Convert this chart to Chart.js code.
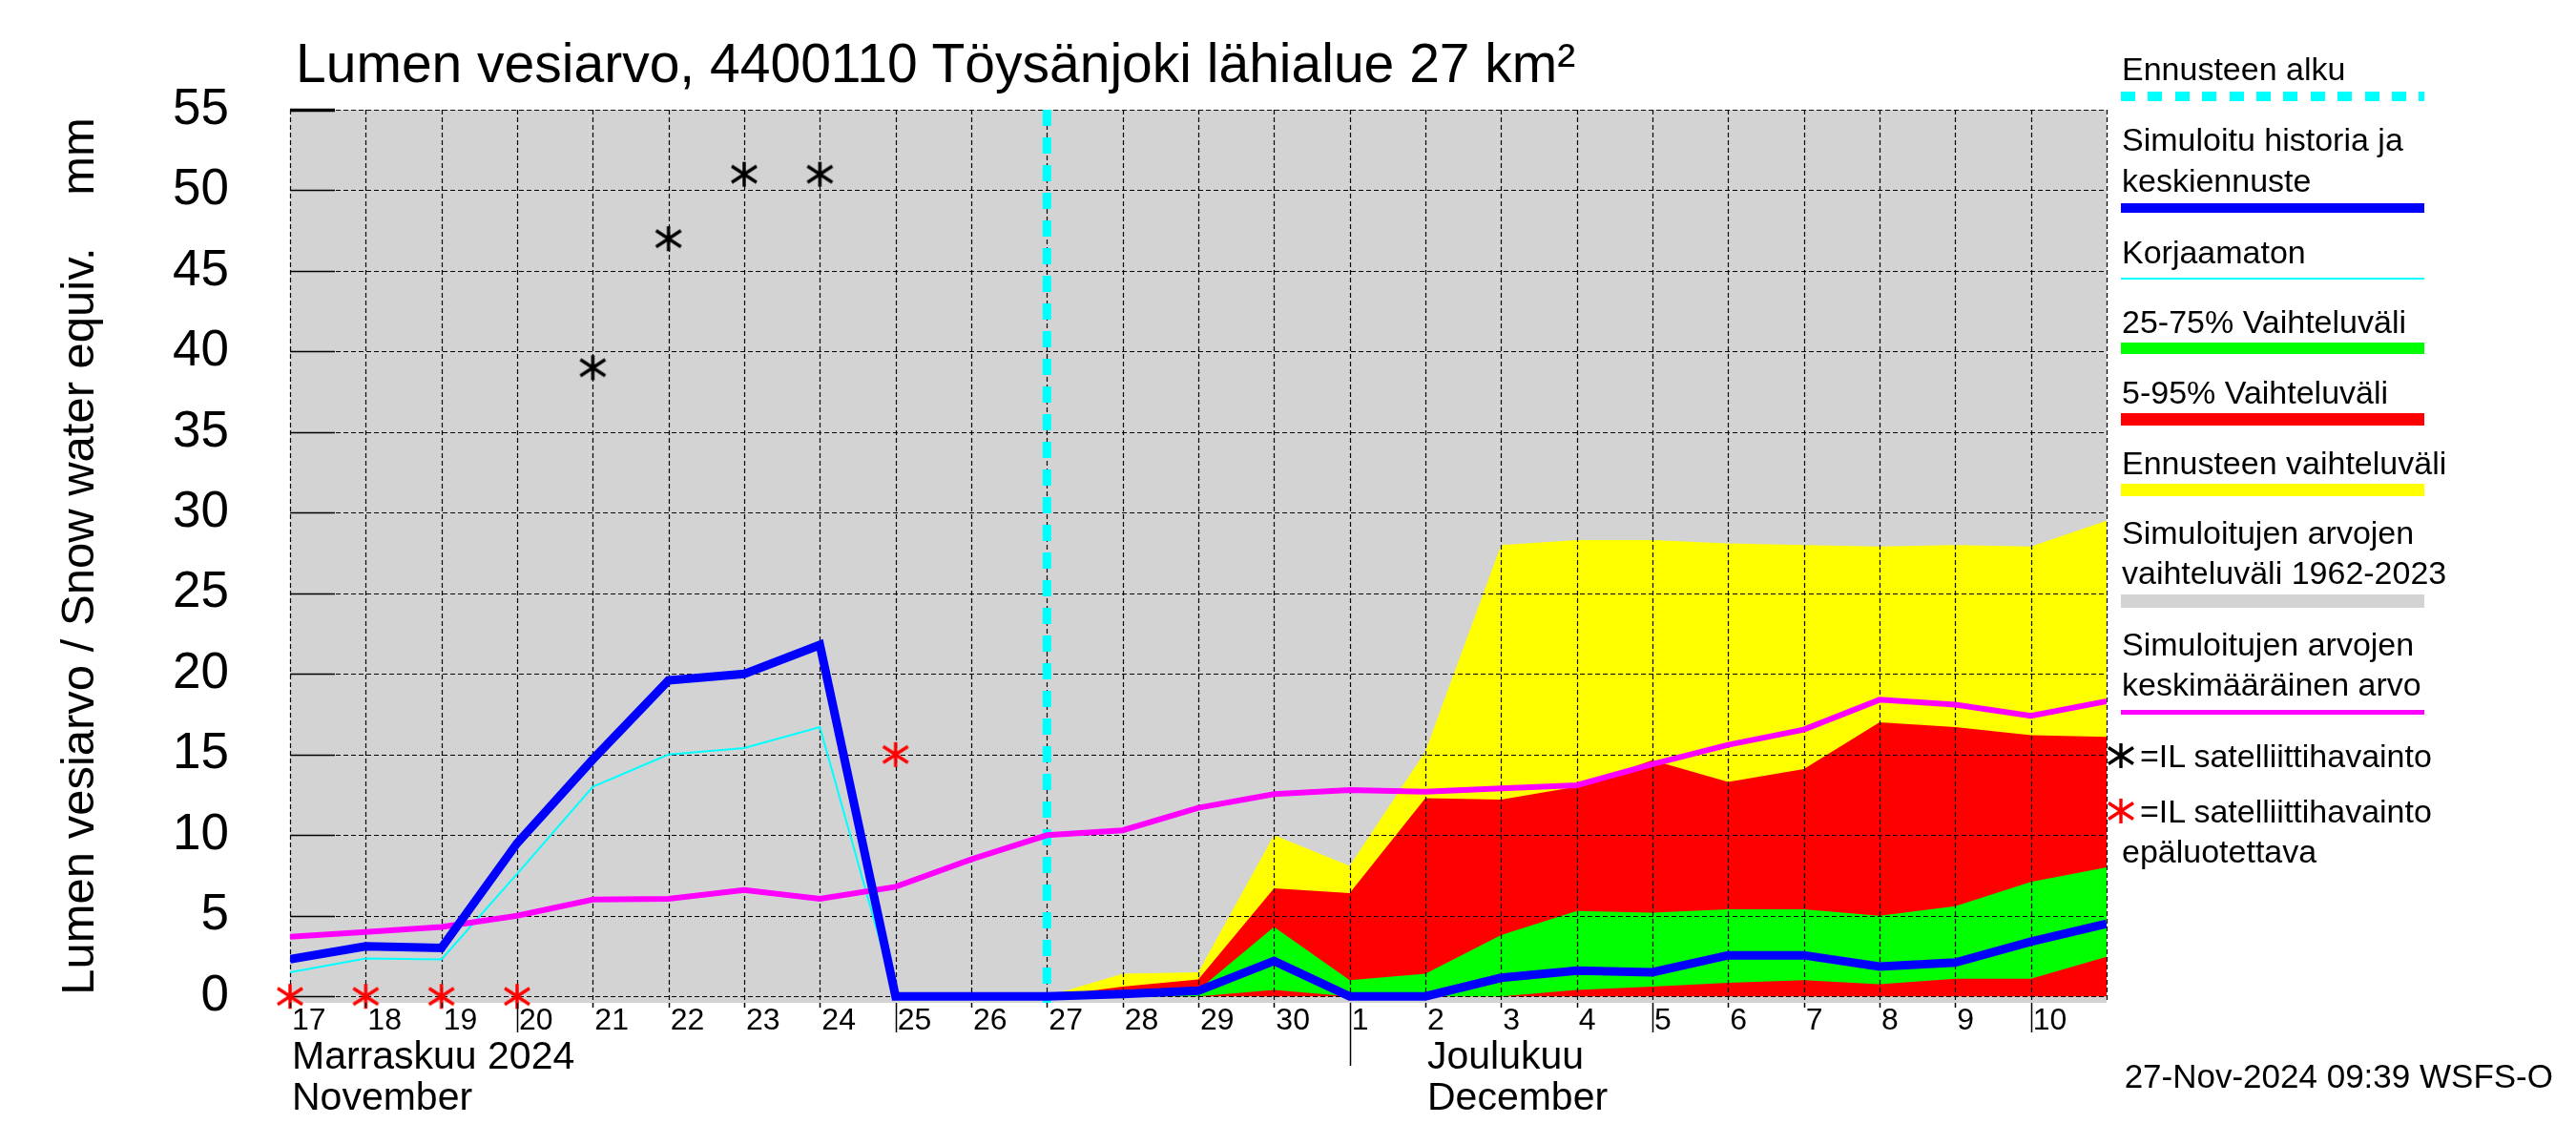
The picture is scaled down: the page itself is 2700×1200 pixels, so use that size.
<!DOCTYPE html>
<html><head><meta charset="utf-8">
<script src="https://cdn.jsdelivr.net/npm/chart.js@4.4.1/dist/chart.umd.min.js"></script>
<style>
html,body{margin:0;padding:0;background:#fff;}
#wrap{position:relative;width:2700px;height:1200px;overflow:hidden;font-family:'Liberation Sans',Arial,Helvetica,sans-serif;color:#000;}
#c{position:absolute;left:0;top:0;}
.t{position:absolute;white-space:pre;line-height:1;}
.ln{position:absolute;}
svg{position:absolute;}
</style></head><body>
<div id="wrap"><canvas id="c" width="2700" height="1200"></canvas></div>
<script>
// ---------------- data ----------------
const startDate = '2024-11-17';
const dayLabels = ['17','18','19','20','21','22','23','24','25','26','27','28','29','30',
                   '1','2','3','4','5','6','7','8','9','10','11'];
const yTicks = [0,5,10,15,20,25,30,35,40,45,50,55];
const longTickDays = ['20','25','5','10'];
const monthStartDay = '1';
const forecastStart = '2024-11-27';

// simulated history + median forecast, Nov 17 .. Dec 11
const simMedian = [2.3,3.1,3.0,9.5,14.7,19.6,20.0,21.8,0,0,0,0.15,0.35,2.2,0,0,1.15,1.6,1.5,2.55,2.55,1.85,2.1,3.4,4.5];
// uncorrected simulation, Nov 17 .. Nov 27
const uncorrected = [1.5,2.35,2.3,7.6,13.0,15.0,15.4,16.7,0,0,0];
// mean of simulated values 1962-2023, Nov 17 .. Dec 11
const simMean = [3.7,4.0,4.3,5.0,6.0,6.05,6.6,6.05,6.8,8.5,10.0,10.3,11.7,12.55,12.8,12.7,12.9,13.1,14.4,15.6,16.55,18.4,18.1,17.4,18.3];
// forecast ranges, Nov 27 .. Dec 11
const ensMin = [0,0,0,0,0,0,0,0,0,0,0,0,0,0,0];
const ensMax = [0,1.4,1.5,10.0,8.1,15.2,28.0,28.3,28.3,28.1,28.0,27.9,28.0,27.9,29.5];
const p05 = [0,0,0,0,0,0,0,0,0,0,0,0,0,0,0];
const p95 = [0,0.6,1.05,6.7,6.4,12.3,12.2,13.0,14.65,13.3,14.1,17.0,16.7,16.2,16.1];
const p25 = [0,0,0,0.4,0,0,0,0.4,0.6,0.85,1.0,0.75,1.1,1.1,2.45];
const p75 = [0,0.2,0.4,4.3,1.0,1.4,3.8,5.3,5.2,5.4,5.4,5.0,5.6,7.1,8.0];
// satellite observations
const satDates = ['2024-11-21','2024-11-22','2024-11-23','2024-11-24'];
const satValues = [39,47,51,51];
const satBadDates = ['2024-11-17','2024-11-18','2024-11-19','2024-11-20','2024-11-25'];
const satBadValues = [0,0,0,0,15];

const titleText = 'Lumen vesiarvo, 4400110 Töysänjoki lähialue 27 km²';
const yTitle = 'Lumen vesiarvo / Snow water equiv.    mm';
const monthLabels = [
  {at:'2024-11-17', lines:['Marraskuu 2024','November']},
  {at:'2024-12-02', lines:['Joulukuu','December']}
];
const stamp = '27-Nov-2024 09:39 WSFS-O';

// ---------------- helpers ----------------
const FONT = "'Liberation Sans', Arial, Helvetica, sans-serif";
function dayIndex(d){ return Math.round((Date.parse(d) - Date.parse(startDate)) / 86400000); }
function pts(arr, start){ return arr.map((v,i)=>({x:start+i, y:v})); }
const fcStart = dayIndex(forecastStart);

function starCanvas(color){
  const c = document.createElement('canvas'); c.width = 30; c.height = 28;
  const g = c.getContext('2d'); g.strokeStyle = color; g.lineWidth = 3.4;
  g.beginPath();
  g.moveTo(15,1); g.lineTo(15,27);
  g.moveTo(2,5.5); g.lineTo(28,22.5);
  g.moveTo(2,22.5); g.lineTo(28,5.5);
  g.stroke();
  return c;
}
const blackStar = starCanvas('#000000');
const redStar = starCanvas('#ff0000');

const IDX_CYAN = 6;

function drawGrid(chart){
  const {ctx, chartArea:a, scales:{x, y}} = chart;
  ctx.save();
  ctx.strokeStyle = '#000'; ctx.lineWidth = 1.2; ctx.setLineDash([5,3]);
  for (let i = 0; i < dayLabels.length; i++){
    const px = Math.round(x.getPixelForValue(i)) + 0.5;
    ctx.beginPath(); ctx.moveTo(px, a.top); ctx.lineTo(px, a.bottom); ctx.stroke();
  }
  yTicks.forEach(v=>{
    const py = Math.round(y.getPixelForValue(v)) + 0.5;
    ctx.beginPath(); ctx.moveTo(a.left, py); ctx.lineTo(a.right, py); ctx.stroke();
  });
  ctx.setLineDash([]);
  yTicks.forEach(v=>{
    const py = Math.round(y.getPixelForValue(v)) + 0.5;
    ctx.lineWidth = (v === yTicks[yTicks.length-1]) ? 3.5 : 1.6;
    ctx.beginPath(); ctx.moveTo(a.left, py); ctx.lineTo(a.left + 47, py); ctx.stroke();
  });
  const fx = x.getPixelForValue(fcStart);
  ctx.strokeStyle = '#00ffff'; ctx.lineWidth = 9; ctx.setLineDash([17,12]);
  ctx.beginPath(); ctx.moveTo(fx, a.top); ctx.lineTo(fx, a.bottom); ctx.stroke();
  ctx.restore();
}

const decor = {
  id: 'decor',
  beforeDatasetsDraw(chart){
    const {ctx, chartArea:a} = chart;
    ctx.save(); ctx.fillStyle = '#d3d3d3';
    ctx.fillRect(a.left, a.top, a.right - a.left, a.bottom - a.top);
    ctx.restore();
  },
  beforeDatasetDraw(chart, args){ if (args.index === IDX_CYAN) drawGrid(chart); },
  afterDraw(chart){
    const {ctx, chartArea:a, scales:{x}} = chart;
    ctx.save(); ctx.strokeStyle = '#000'; ctx.lineWidth = 1.5;
    for (let i = 0; i < dayLabels.length - 1; i++){
      const d = dayLabels[i];
      const len = d === monthStartDay ? 66 : (longTickDays.includes(d) ? 31 : 5);
      const px = Math.round(x.getPixelForValue(i)) + 0.5;
      ctx.beginPath(); ctx.moveTo(px, a.bottom); ctx.lineTo(px, a.bottom + len); ctx.stroke();
    }
    ctx.restore();
  }
};

const noPt = {pointRadius:0, pointHoverRadius:0, tension:0};
const band = (data, color, target, order) => Object.assign({
  data: pts(data, fcStart), borderWidth: 0, borderColor: 'rgba(0,0,0,0)',
  backgroundColor: color, fill: target === null ? false : {target: target}, order: order
}, noPt);

Chart.defaults.font.family = FONT;
const chart = new Chart(document.getElementById('c'), {
  type: 'line',
  data: { datasets: [
    band(ensMin, 'rgba(0,0,0,0)', null, 10),
    band(ensMax, '#ffff00', 0, 10),
    band(p05, 'rgba(0,0,0,0)', null, 9),
    band(p95, '#ff0000', 2, 9),
    band(p25, 'rgba(0,0,0,0)', null, 8),
    band(p75, '#00ff00', 4, 8),
    Object.assign({data: pts(uncorrected, 0), borderColor:'#00ffff', borderWidth:2, fill:false, order:5}, noPt),
    Object.assign({data: pts(simMean, 0), borderColor:'#ff00ff', borderWidth:6, fill:false, order:4}, noPt),
    Object.assign({data: pts(simMedian, 0), borderColor:'#0000ff', borderWidth:9, fill:false, order:3}, noPt),
    {data: satDates.map((d,i)=>({x:dayIndex(d), y:satValues[i]})), showLine:false, pointStyle:blackStar,
     pointRadius:14, pointHoverRadius:14, clip:false, order:1},
    {data: satBadDates.map((d,i)=>({x:dayIndex(d), y:satBadValues[i]})), showLine:false, pointStyle:redStar,
     pointRadius:14, pointHoverRadius:14, clip:false, order:1}
  ]},
  options: {
    responsive:false, devicePixelRatio:1, animation:false,
    events: [],
    layout: {padding:{left:0, top:115, right:492, bottom:0}},
    plugins: {legend:{display:false}, tooltip:{enabled:false}, title:{display:false}},
    scales: {
      x: {
        type:'linear', min:0, max:dayLabels.length-1,
        afterFit: s => { s.height = 149; },
        grid:{display:false, drawTicks:false}, border:{display:false},
        afterBuildTicks: s => { s.ticks = dayLabels.map((_,i)=>({value:i})); },
        ticks:{autoSkip:false, maxRotation:0, minRotation:0, align:'start', labelOffset:2, padding:0,
               color:'#000', font:{size:32},
               callback: (v) => (v < dayLabels.length-1 ? dayLabels[v] : '')}
      },
      y: {
        min:-0.4, max:55,
        afterFit: s => { s.width = 304; },
        afterBuildTicks: s => { s.ticks = yTicks.map(v=>({value:v})); },
        grid:{display:false, drawTicks:false}, border:{display:false},
        ticks:{padding:64, color:'#000', font:{size:53}},
        title:{display:true, text:yTitle, color:'#000', font:{size:49}, padding:{top:55, bottom:0}}
      }
    }
  },
  plugins:[decor]
});

// ---------------- HTML text, legend ----------------
const wrap = document.getElementById('wrap');
function addText(str, x, baseline, size, align){
  const d = document.createElement('div'); d.className = 't'; d.textContent = str;
  d.style.fontSize = size + 'px'; d.style.top = (baseline - 0.8465*size) + 'px';
  if (align === 'right') d.style.right = (2700 - x) + 'px'; else d.style.left = x + 'px';
  wrap.appendChild(d);
}
function addLine(x1, x2, yc, th, color, dashed){
  const d = document.createElement('div'); d.className = 'ln';
  d.style.left = x1 + 'px'; d.style.width = (x2 - x1) + 'px';
  d.style.top = (yc - th/2) + 'px'; d.style.height = th + 'px';
  d.style.background = dashed ? `repeating-linear-gradient(to right, ${color} 0 15px, transparent 15px 28.4px)` : color;
  wrap.appendChild(d);
}
function addStar(cx, cy, color){
  const ns = 'http://www.w3.org/2000/svg';
  const s = document.createElementNS(ns, 'svg');
  s.setAttribute('width', 30); s.setAttribute('height', 28);
  s.style.left = (cx - 15) + 'px'; s.style.top = (cy - 14) + 'px';
  const p = document.createElementNS(ns, 'path');
  p.setAttribute('d', 'M15 1 L15 27 M2 5.5 L28 22.5 M2 22.5 L28 5.5');
  p.setAttribute('stroke', color); p.setAttribute('stroke-width', 3.4); p.setAttribute('fill', 'none');
  s.appendChild(p); wrap.appendChild(s);
}

addText(titleText, 310, 86, 57);

const LX = 2224, L1 = 2223, L2 = 2541, LF = 34;
addText('Ennusteen alku', LX, 84, LF);           addLine(L1, L2, 101, 10, '#00ffff', true);
addText('Simuloitu historia ja', LX, 158, LF);
addText('keskiennuste', LX, 201, LF);             addLine(L1, L2, 218, 10, '#0000ff');
addText('Korjaamaton', LX, 276, LF);              addLine(L1, L2, 292, 2, '#00ffff');
addText('25-75% Vaihteluväli', LX, 349, LF);      addLine(L1, L2, 365, 12, '#00ff00');
addText('5-95% Vaihteluväli', LX, 423, LF);       addLine(L1, L2, 439, 13, '#ff0000');
addText('Ennusteen vaihteluväli', LX, 497, LF);   addLine(L1, L2, 513, 13, '#ffff00');
addText('Simuloitujen arvojen', LX, 570, LF);
addText('vaihteluväli 1962-2023', LX, 612, LF);   addLine(L1, L2, 630, 14, '#d3d3d3');
addText('Simuloitujen arvojen', LX, 687, LF);
addText('keskimääräinen arvo', LX, 729, LF);      addLine(L1, L2, 746, 5, '#ff00ff');
addStar(2223, 792, '#000000'); addText('=IL satelliittihavainto', 2243, 804, LF);
addStar(2223, 850, '#ff0000'); addText('=IL satelliittihavainto', 2243, 862, LF);
addText('epäluotettava', LX, 904, LF);

const xs = chart.scales.x;
monthLabels.forEach(m=>{
  const px = xs.getPixelForValue(dayIndex(m.at)) + 2;
  addText(m.lines[0], px, 1121, 41);
  addText(m.lines[1], px, 1164, 41);
});
addText(stamp, 2676, 1140, 35, 'right');
</script>
</body></html>
